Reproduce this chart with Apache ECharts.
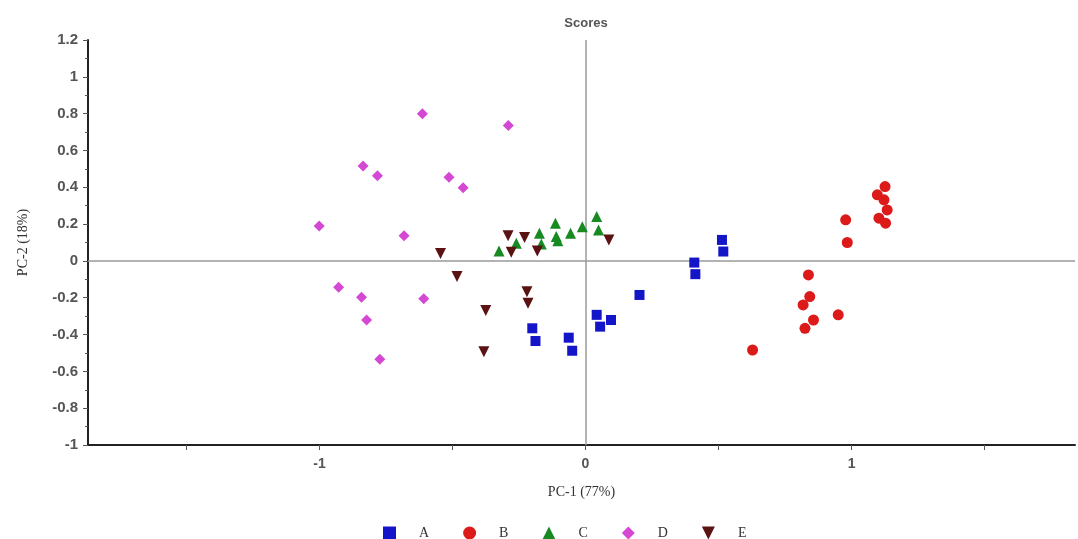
<!DOCTYPE html>
<html>
<head>
<meta charset="utf-8">
<script src="https://cdn.jsdelivr.net/npm/echarts@6/dist/echarts.min.js"></script>
<style>html,body{margin:0;padding:0;background:#fff;}#c{width:1078px;height:539px;}</style>
</head>
<body>
<div id="c"></div>
<script>
const seriesNames = ['A', 'B', 'C', 'D', 'E'];
const dataA = [[-0.2,-0.366],[-0.188,-0.435],[-0.063,-0.417],[-0.05,-0.488],[0.042,-0.293],[0.055,-0.357],[0.096,-0.321],[0.203,-0.185],[0.409,-0.009],[0.413,-0.072],[0.513,0.114],[0.518,0.051]];
const dataB = [[0.628,-0.484],[0.838,-0.076],[0.843,-0.194],[0.818,-0.239],[0.857,-0.321],[0.825,-0.366],[0.95,-0.293],[0.978,0.223],[0.984,0.1],[1.126,0.404],[1.097,0.359],[1.122,0.332],[1.134,0.277],[1.103,0.232],[1.128,0.205]];
const dataC = [[-0.325,0.054],[-0.26,0.096],[-0.173,0.15],[-0.166,0.092],[-0.113,0.205],[-0.11,0.132],[-0.104,0.11],[-0.056,0.15],[-0.012,0.186],[0.042,0.241],[0.049,0.168]];
const dataD = [[-0.613,0.8],[-0.836,0.516],[-0.782,0.462],[-0.513,0.455],[-0.46,0.398],[-1.001,0.19],[-0.682,0.136],[-0.928,-0.143],[-0.842,-0.197],[-0.608,-0.205],[-0.823,-0.321],[-0.773,-0.534],[-0.29,0.735]];
const dataE = [[-0.545,0.04],[-0.483,-0.085],[-0.375,-0.27],[-0.382,-0.493],[-0.291,0.137],[-0.229,0.127],[-0.279,0.047],[-0.181,0.054],[0.088,0.114],[-0.22,-0.167],[-0.216,-0.23]];
const xTickValues = [-1.5,-1,-0.5,0,0.5,1,1.5];
const xLabelValues = [-1,0,1];
const xRange = [-1.87, 1.84];
const yRange = [-1, 1.2];

const chart = echarts.init(document.getElementById('c'), null, {renderer:'canvas'});
const styles = {
  A: {symbol:'rect', size:10, color:'#1414c8'},
  B: {symbol:'circle', size:11, color:'#dd1a1a'},
  C: {symbol:'triangle', size:11, color:'#178a22'},
  D: {symbol:'diamond', size:11, color:'#d448d4'},
  E: {symbol:'path://M0,0 L10,0 L5,10 Z', size:11, color:'#5a1212'}
};
const allData = {A:dataA, B:dataB, C:dataC, D:dataD, E:dataE};
const series = seriesNames.map((n) => ({
  name: n,
  type: 'scatter',
  data: allData[n],
  symbol: styles[n].symbol,
  symbolSize: styles[n].size,
  itemStyle: {color: styles[n].color, opacity: 1},
  z: 3
}));
series[0].markLine = {
  silent: true,
  symbol: ['none','none'],
  label: {show:false},
  lineStyle: {color:'#9a9a9a', width:1.5, type:'solid'},
  data: [{xAxis:0},{yAxis:0}],
  z: 1
};
chart.setOption({
  backgroundColor:'#fff',
  animation:false,
  graphic: [{type:'text', x:586, y:23, style:{text:'Scores', align:'center', verticalAlign:'middle',
    font:'bold 13px "Liberation Sans"', fill:'#555'}}],
  grid: {left:88, right:3, top:40, bottom:94},
  xAxis: {
    type:'value', min:xRange[0], max:xRange[1],
    name:'PC-1 (77%)', nameLocation:'middle', nameGap:40,
    nameTextStyle:{fontFamily:'Liberation Serif', fontSize:14, color:'#333'},
    axisLine:{onZero:false, lineStyle:{color:'#222', width:2}},
    axisTick:{show:true, customValues:xTickValues, length:5, lineStyle:{color:'#555'}},
    axisLabel:{customValues:xLabelValues, fontFamily:'Liberation Sans', fontSize:14, fontWeight:'bold', color:'#555', margin:12},
    splitLine:{show:false}
  },
  yAxis: {
    type:'value', min:yRange[0], max:yRange[1], interval:0.2,
    name:'PC-2 (18%)', nameLocation:'middle', nameGap:58, nameRotate:90,
    nameTextStyle:{fontFamily:'Liberation Serif', fontSize:14, color:'#333'},
    axisLine:{onZero:false, lineStyle:{color:'#222', width:2}},
    axisTick:{show:true, length:5, lineStyle:{color:'#555'}},
    minorTick:{show:true, splitNumber:2, length:3, lineStyle:{color:'#555'}},
    axisLabel:{fontFamily:'Liberation Sans', fontSize:15, fontWeight:'bold', color:'#555', margin:10,
      formatter: v => String(Math.round(v*10)/10)},
    splitLine:{show:false}
  },
  legend: {
    data: seriesNames, left:378, top:521, itemWidth:13, itemHeight:13, itemGap:34,
    textStyle:{fontFamily:'Liberation Serif', fontSize:14, color:'#333', padding:[0,0,0,18]}
  },
  series: series
});
</script>
</body>
</html>
